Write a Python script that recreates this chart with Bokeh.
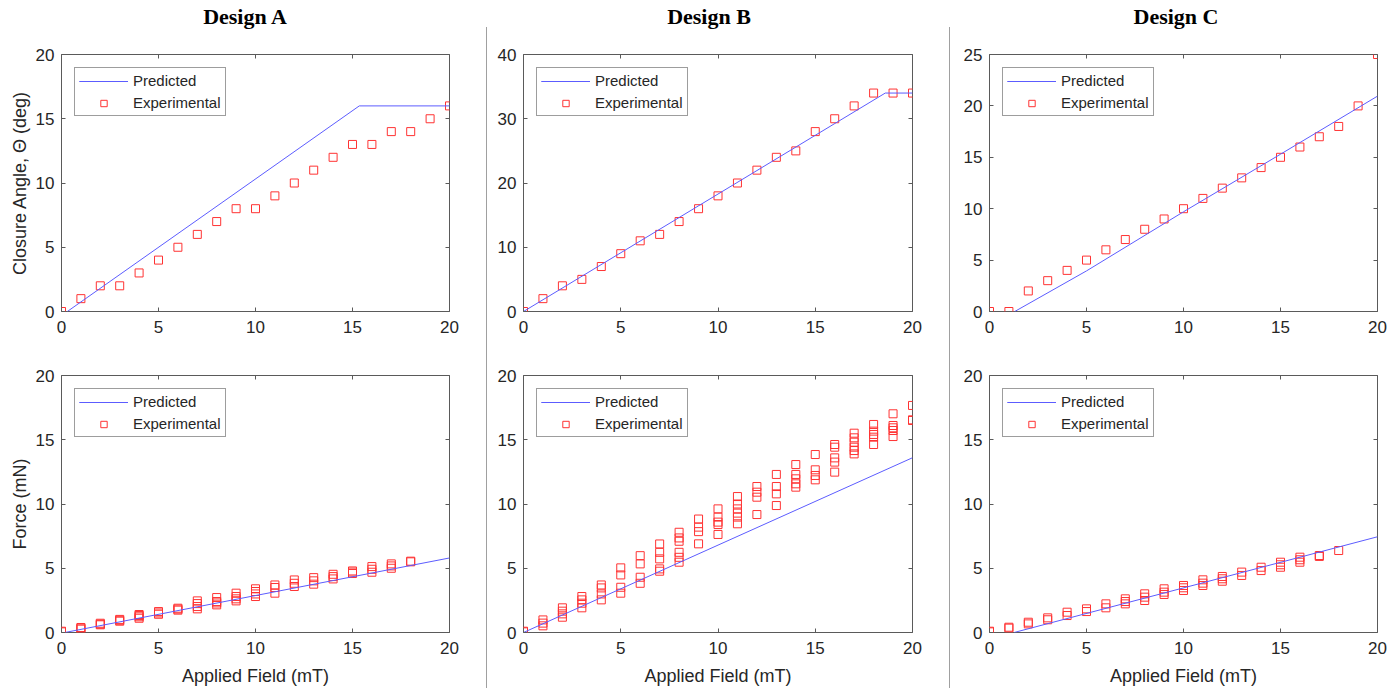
from bokeh.plotting import figure
from bokeh.models import (Range1d, LinearAxis, FixedTicker, Legend, LegendItem, Div,
                          ColumnDataSource)
from bokeh.layouts import row, column
from bokeh.embed import file_html
from bokeh.resources import INLINE

# ---------------- data ----------------
titles = ["Design A", "Design B", "Design C"]
x_ticks = [0, 5, 10, 15, 20]
angle_ticks_a = [0, 5, 10, 15, 20]
angle_ticks_b = [0, 10, 20, 30, 40]
angle_ticks_c = [0, 5, 10, 15, 20, 25]
force_ticks = [0, 5, 10, 15, 20]

field = [0, 1, 2, 3, 4, 5, 6, 7, 8, 9, 10, 11, 12, 13, 14, 15, 16, 17, 18, 19, 20]
angle_a = [0, 1, 2, 2, 3, 4, 5, 6, 7, 8, 8, 9, 10, 11, 12, 13, 13, 14, 14, 15, 16]
angle_b = [0, 2, 4, 5, 7, 9, 11, 12, 14, 16, 18, 20, 22, 24, 25, 28, 30, 32, 34, 34, 34]
angle_c = [0, 0, 2, 3, 4, 5, 6, 7, 8, 9, 10, 11, 12, 13, 14, 15, 16, 17, 18, 20, 25]

pred_angle_a_x = [0.3, 15.35, 20]
pred_angle_a_y = [0, 16, 16]
pred_angle_b_x = [0, 18.6, 20]
pred_angle_b_y = [0, 34, 34]
pred_angle_c_x = [1.3, 5, 10, 15, 20]
pred_angle_c_y = [0, 3.95, 9.7, 15.3, 20.95]

force_a_x = [0, 0, 1, 1, 1, 2, 2, 2, 3, 3, 3, 4, 4, 4, 4, 5, 5, 5, 6, 6, 6,
             7, 7, 7, 7, 8, 8, 8, 8, 9, 9, 9, 9, 10, 10, 10, 10, 11, 11, 11,
             12, 12, 12, 13, 13, 13, 14, 14, 14, 15, 15, 15, 16, 16, 16,
             17, 17, 17, 18, 18]
force_a_y = [0.05, 0.1, 0.26, 0.34, 0.39, 0.6, 0.65, 0.72, 0.88, 0.95, 1.02,
             1.11, 1.22, 1.32, 1.4, 1.42, 1.52, 1.63, 1.74, 1.82, 1.89,
             1.84, 2.02, 2.25, 2.46, 2.15, 2.3, 2.41, 2.72, 2.46, 2.62, 2.8, 3.06,
             2.8, 3.0, 3.19, 3.4, 3.06, 3.5, 3.7, 3.58, 3.83, 4.09,
             3.76, 4.02, 4.27, 4.17, 4.35, 4.53, 4.59, 4.7, 4.79,
             4.69, 4.92, 5.13, 5.0, 5.18, 5.34, 5.5, 5.55]
pred_force_a_x = [0.17, 20]
pred_force_a_y = [0, 5.8]

force_b_x = [0, 0, 1, 1, 1, 2, 2, 2, 2, 3, 3, 3, 3, 4, 4, 4, 4, 5, 5, 5, 5,
             6, 6, 6, 6, 7, 7, 7, 7, 7, 8, 8, 8, 8, 8, 8, 9, 9, 9, 9,
             10, 10, 10, 10, 10, 11, 11, 11, 11, 11, 11, 12, 12, 12, 12,
             13, 13, 13, 13, 14, 14, 14, 14, 14, 15, 15, 15, 15,
             16, 16, 16, 16, 16, 17, 17, 17, 17, 17, 17, 18, 18, 18, 18, 18,
             19, 19, 19, 19, 19, 20, 20, 20]
force_b_y = [0.05, 0.1, 0.52, 0.73, 0.98, 1.19, 1.45, 1.66, 1.92,
             1.92, 2.28, 2.54, 2.8, 2.54, 3.0, 3.47, 3.7, 3.06, 3.52, 4.48, 5.03,
             3.83, 4.3, 5.34, 5.98, 4.77, 4.95, 5.73, 6.24, 6.89,
             5.47, 5.85, 6.24, 7.1, 7.36, 7.8, 6.9, 7.85, 8.2, 8.83,
             7.63, 8.4, 8.59, 8.98, 9.62, 8.46, 8.98, 9.29, 9.62, 10.0, 10.58,
             9.18, 10.53, 10.92, 11.36, 9.88, 10.79, 11.36, 12.3,
             11.31, 11.57, 11.96, 12.3, 13.07, 11.88, 12.22, 12.66, 13.85,
             12.48, 13.26, 13.59, 14.42, 14.63, 13.9, 14.16, 14.42, 14.81, 15.15, 15.51,
             14.63, 15.2, 15.41, 15.67, 16.19, 15.25, 15.72, 15.93, 16.11, 17.02,
             16.5, 16.55, 17.67]
pred_force_b_x = [0, 20]
pred_force_b_y = [0, 13.6]

force_c_x = [0, 0, 1, 1, 2, 2, 3, 3, 4, 4, 5, 5, 6, 6, 7, 7, 7, 8, 8, 8,
             9, 9, 9, 10, 10, 10, 11, 11, 11, 12, 12, 12, 13, 13, 14, 14,
             15, 15, 15, 16, 16, 16, 17, 17, 18]
force_c_y = [0.05, 0.1, 0.34, 0.41, 0.67, 0.8, 0.99, 1.14, 1.32, 1.58,
             1.63, 1.84, 1.92, 2.23, 2.23, 2.41, 2.62, 2.49, 2.75, 3.01,
             2.96, 3.14, 3.4, 3.27, 3.48, 3.66, 3.66, 3.84, 4.1, 3.99, 4.18, 4.36,
             4.44, 4.7, 4.82, 5.08, 5.08, 5.27, 5.47, 5.47, 5.66, 5.86,
             5.92, 5.99, 6.38]
pred_force_c_x = [1.27, 20]
pred_force_c_y = [0, 7.45]

# ---------------- style ----------------
AX = "#5a5a5a"
TXT = "#262626"
FONT = "Liberation Sans"
BLUE = "#5c5cff"
RED = "#ff3333"


def make_fig(width, height, bl, br, bt, bb, ymax, yticks, ylabel=None, xlabel=None):
    p = figure(width=width, height=height,
               x_range=Range1d(0, 20), y_range=Range1d(0, ymax),
               x_axis_type=None, y_axis_type=None,
               output_backend="svg", toolbar_location=None,
               min_border_left=bl, min_border_right=br,
               min_border_top=bt, min_border_bottom=bb,
               background_fill_color="white", border_fill_color="white",
               outline_line_color=AX, outline_line_width=1)
    for loc, ticks, lab in (("below", x_ticks, xlabel), ("left", yticks, ylabel),
                            ("above", x_ticks, None), ("right", yticks, None)):
        ax = LinearAxis(ticker=FixedTicker(ticks=list(ticks)))
        ax.axis_line_color = None
        ax.major_tick_line_color = AX
        ax.major_tick_in = 4
        ax.major_tick_out = 0
        ax.minor_tick_line_color = None
        if loc in ("below", "left"):
            ax.major_label_text_font = FONT
            ax.major_label_text_font_size = "17px"
            ax.major_label_text_color = TXT
            ax.major_label_standoff = 9 if loc == "below" else 7
            if lab:
                ax.axis_label = lab
                ax.axis_label_text_font = FONT
                ax.axis_label_text_font_size = "18px"
                ax.axis_label_text_font_style = "normal"
                ax.axis_label_text_color = TXT
                ax.axis_label_standoff = 9 if loc == "below" else 3
        else:
            ax.major_label_text_font_size = "1px"
            ax.major_label_text_color = None
            ax.major_label_standoff = 0
        p.add_layout(ax, loc)
    return p


def add_data(p, px, py, ex, ey):
    line_src = ColumnDataSource(data=dict(x=[float(v) for v in px], y=[float(v) for v in py]))
    pt_src = ColumnDataSource(data=dict(x=[float(v) for v in ex], y=[float(v) for v in ey]))
    sc = p.scatter("x", "y", source=pt_src, marker="square", size=8, fill_color=None,
                   line_color=RED, line_width=1)
    ln = p.line("x", "y", source=line_src, line_color=BLUE, line_width=1)
    # hidden duplicate of the predicted line, drawn second in the legend key so the
    # key stroke is always blue (the first stroke after the legend border can pick up
    # the border colour in the SVG backend)
    ln2 = p.line("x", "y", source=line_src, line_color=BLUE, line_width=1, visible=False)
    leg = Legend(items=[LegendItem(label="Predicted", renderers=[ln, ln2]),
                        LegendItem(label="Experimental", renderers=[sc])],
                 location="top_left", margin=13, padding=4, spacing=5,
                 glyph_width=49, glyph_height=16, label_height=16,
                 label_standoff=5, label_text_font=FONT,
                 label_text_font_size="15px", label_text_color=TXT,
                 inactive_fill_alpha=0,
                 border_line_color="#3c3c3c", border_line_width=1,
                 background_fill_color="white", background_fill_alpha=1)
    p.add_layout(leg)


# column geometry (page px): widths and borders
cols = [
    dict(w=486, bl=61, br=37, pad="padding-left:4px;"),
    dict(w=462, bl=36, br=37, pad="padding-right:18px;"),
    dict(w=445, bl=39, br=18, pad="padding-left:7px;"),
]
top_specs = [
    (20, angle_ticks_a, pred_angle_a_x, pred_angle_a_y, field, angle_a, "Closure Angle, \u0398 (deg)"),
    (40, angle_ticks_b, pred_angle_b_x, pred_angle_b_y, field, angle_b, None),
    (25, angle_ticks_c, pred_angle_c_x, pred_angle_c_y, field, angle_c, None),
]
bot_specs = [
    (20, force_ticks, pred_force_a_x, pred_force_a_y, force_a_x, force_a_y, "Force (mN)"),
    (20, force_ticks, pred_force_b_x, pred_force_b_y, force_b_x, force_b_y, None),
    (20, force_ticks, pred_force_c_x, pred_force_c_y, force_c_x, force_c_y, None),
]

children = []
for i in range(3):
    c = cols[i]
    title = Div(text=(f'<div style="box-sizing:border-box;width:{c["w"]}px;{c["pad"]}'
                      f'padding-top:6px;text-align:center;font-family:\'Liberation Serif\';'
                      f'font-weight:bold;font-size:22px;line-height:22px;color:#000;margin:0;">'
                      f'{titles[i]}</div>'),
                width=c["w"], height=30, margin=(0, 0, 0, 0))
    ymax, yt, px, py, ex, ey, ylab = top_specs[i]
    pt = make_fig(c["w"], 313, c["bl"], c["br"], 24, 32, ymax, yt, ylabel=ylab)
    add_data(pt, px, py, ex, ey)
    ymax, yt, px, py, ex, ey, ylab = bot_specs[i]
    pb = make_fig(c["w"], 345, c["bl"], c["br"], 32, 56, ymax, yt, ylabel=ylab,
                  xlabel="Applied Field (mT)")
    add_data(pb, px, py, ex, ey)
    children.append(column(title, pt, pb, spacing=0))
    if i < 2:
        sep = Div(text='<div style="width:1px;height:661px;margin-top:27px;background:#a0a0a0;"></div>',
                  width=1, height=688, margin=(0, 0, 0, 0))
        children.append(sep)

layout = row(*children, spacing=0)

open("out.html", "w").write(file_html(layout, INLINE, "Designs"))
